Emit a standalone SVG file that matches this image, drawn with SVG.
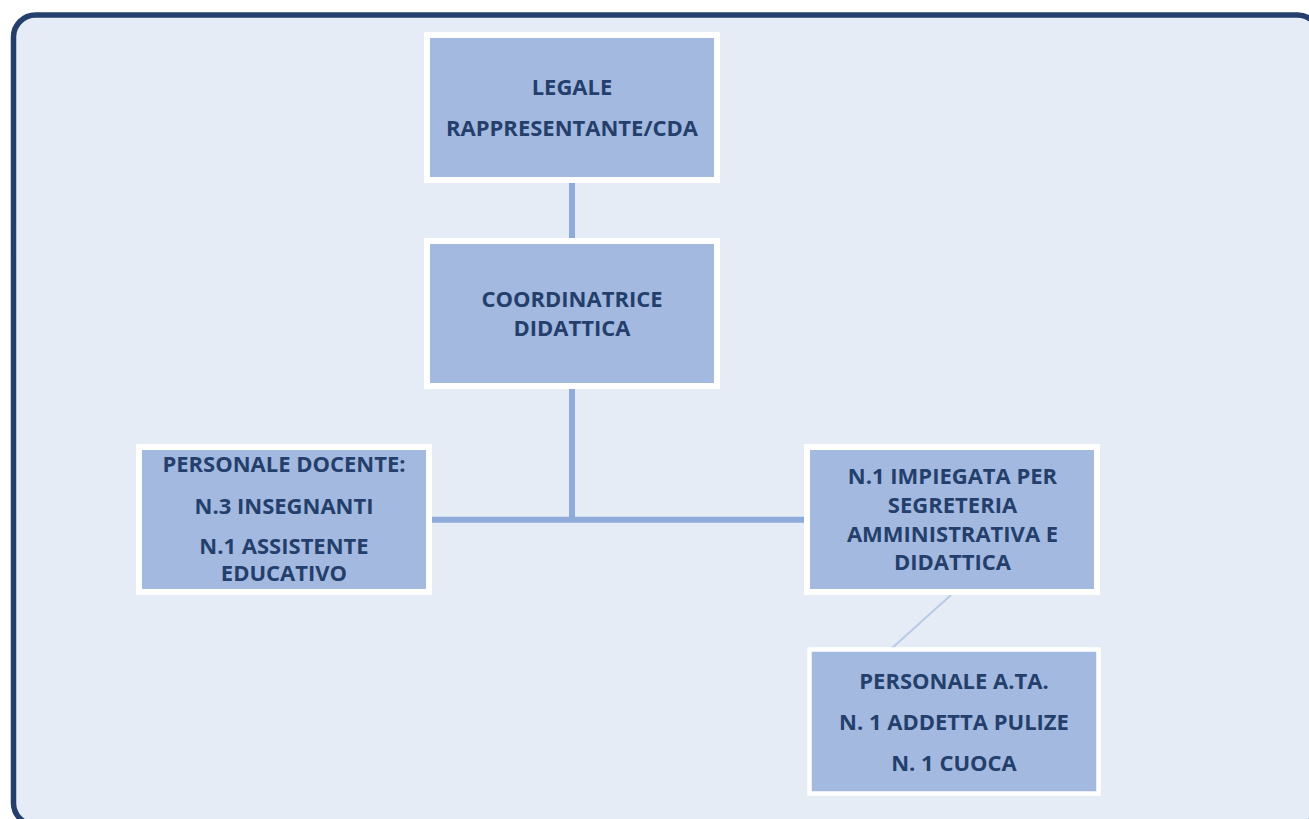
<svg xmlns="http://www.w3.org/2000/svg" width="1309" height="819" viewBox="0 0 1309 819">
<style>
.node{fill:#A3B9E0;stroke:#FFFFFF;stroke-width:6}
.t{font-family:"Open Sans","Liberation Sans",Arial,sans-serif;font-weight:bold;font-size:22px;fill:#243F6B;text-anchor:middle}
.c{stroke:#8FABDC;stroke-width:6;fill:none}
</style>
<rect x="0" y="0" width="1309" height="819" fill="#FFFFFF"/>
<rect id="frame" x="13.5" y="15" width="1306" height="810" rx="22" ry="22" fill="#E5ECF6" stroke="#243F6B" stroke-width="5.5"/>
<g id="connectors">
<line class="c" x1="572" y1="183" x2="572" y2="238"/>
<line class="c" x1="572" y1="389" x2="572" y2="520"/>
<line class="c" x1="432" y1="519.7" x2="804" y2="519.7"/>
<line x1="951" y1="595" x2="891" y2="649" stroke="#B8CAE9" stroke-width="2"/>
</g>
<g id="legale">
<rect class="node" x="427" y="35" width="290" height="145"/>
<text class="t" x="572" y="95">LEGALE</text>
<text class="t" x="572" y="136">RAPPRESENTANTE/CDA</text>
</g>
<g id="coordinatrice">
<rect class="node" x="427" y="241" width="290" height="145"/>
<text class="t" x="572" y="307">COORDINATRICE</text>
<text class="t" x="572" y="336">DIDATTICA</text>
</g>
<g id="docenti">
<rect class="node" x="139" y="447" width="290" height="145"/>
<text class="t" x="284" y="472">PERSONALE DOCENTE:</text>
<text class="t" x="284" y="514">N.3 INSEGNANTI</text>
<text class="t" x="284" y="554">N.1 ASSISTENTE</text>
<text class="t" x="284" y="581">EDUCATIVO</text>
</g>
<g id="segreteria">
<rect class="node" x="807" y="447" width="290" height="145"/>
<text class="t" x="952.5" y="484">N.1 IMPIEGATA PER</text>
<text class="t" x="952.5" y="513">SEGRETERIA</text>
<text class="t" x="952.5" y="542">AMMINISTRATIVA E</text>
<text class="t" x="952.5" y="570">DIDATTICA</text>
</g>
<g id="ata">
<rect class="node" x="809.5" y="649.5" width="289" height="144" style="stroke-width:4.5"/>
<text class="t" x="954" y="689">PERSONALE A.TA.</text>
<text class="t" x="954" y="730">N. 1 ADDETTA PULIZE</text>
<text class="t" x="954" y="771">N. 1 CUOCA</text>
</g>
</svg>
